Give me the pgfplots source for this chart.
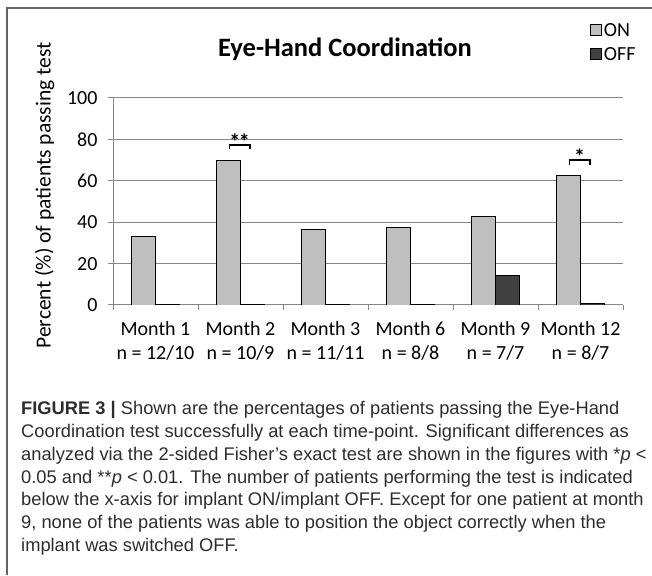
\documentclass[border=0pt]{standalone}
\usepackage{fontspec}
\setmainfont{Carlito}
\newfontfamily\capfont{Liberation Sans}
\usepackage{pgfplots}
\pgfplotsset{compat=1.18}
\definecolor{onfill}{RGB}{191,191,191}
\definecolor{offfill}{RGB}{64,64,64}
\definecolor{gridc}{RGB}{134,134,134}
\definecolor{framec}{RGB}{100,100,100}
\definecolor{capc}{RGB}{45,45,45}
\pgfplotsset{ybar legend/.style={legend image code/.code={\draw[##1, line width=0.8pt] (0pt,-5.5pt) rectangle (11pt,5.5pt);}}}
\begin{document}
\begin{tikzpicture}[x=1pt,y=1pt]
\useasboundingbox (0,0) rectangle (652,575);
\draw[framec, line width=1.2pt] (7,0) -- (7,567) -- (652,567);
\node[font=\bfseries\fontsize{26.5}{30}\selectfont, anchor=base] at (345,518) {Eye-Hand Coordination};
\begin{axis}[
  at={(113pt,270pt)}, anchor=south west,
  scale only axis, width=510pt, height=207pt,
  xmin=-0.5, xmax=5.5, ymin=0, ymax=100,
  axis x line*=bottom, axis y line*=left,
  axis line style={gridc, line width=1pt},
  ytick={0,20,...,100},
  ymajorgrids, grid style={gridc, line width=1pt},
  tick align=outside,
  major tick length=5pt,
  minor tick length=5pt,
  tick style={gridc, line width=1pt},
  xtick={0,...,5},
  major x tick style={draw=none},
  minor xtick={-0.5,0.5,...,5.5},
  xticklabels={{Month 1\\n = 12/10},{Month 2\\n = 10/9},{Month 3\\n = 11/11},{Month 6\\n = 8/8},{Month 9\\n = 7/7},{Month 12\\n = 8/7}},
  xticklabel style={align=center, font=\fontsize{20}{24}\selectfont, yshift=-8pt},
  yticklabel style={font=\fontsize{20}{24}\selectfont, xshift=-7pt},
  /pgf/number format/assume math mode=true,
  ybar=0pt, bar width=24pt,
  ylabel={Percent (\%) of patients passing test},
  ylabel style={font=\fontsize{21.5}{24}\selectfont, at={(axis description cs:-0.134,0.529)}, anchor=center},
  legend style={at={(0.935,1.360)}, anchor=north west, draw=none, fill=none,
    font=\fontsize{20}{24}\selectfont, inner sep=0pt, row sep=11pt,
    nodes={inner sep=0pt, text height=13pt, text depth=0pt},
    /tikz/every odd column/.append style={column sep=2pt}},
  legend cell align=left,
]
\addplot[fill=onfill, draw=black, line width=0.8pt] coordinates {(0,33.3) (1,70.0) (2,36.4) (3,37.5) (4,42.9) (5,62.5)};
\addplot[fill=offfill, draw=black, line width=0.8pt] coordinates {(0,0.4) (1,0.4) (2,0.4) (3,0.4) (4,14.3) (5,0.8)};
\legend{ON,OFF}
\draw[black, line width=1.3pt] (axis cs:0.87,75.2) -- (axis cs:0.87,77.3) -- (axis cs:1.11,77.3) -- (axis cs:1.11,75.2);
\node[font=\bfseries\fontsize{22}{24}\selectfont, anchor=base, inner sep=0pt] at (axis cs:0.99,75.0) {*\kern-1.5pt*};
\draw[black, line width=1.3pt] (axis cs:4.87,67.6) -- (axis cs:4.87,70.0) -- (axis cs:5.11,70.0) -- (axis cs:5.11,67.6);
\node[font=\bfseries\fontsize{22}{24}\selectfont, anchor=base, inner sep=0pt] at (axis cs:4.99,67.7) {*};
\end{axis}
\begin{scope}[every node/.style={anchor=base west, inner sep=0pt, text=capc, font=\capfont\fontsize{18.3}{22}\selectfont}]
\node at (21,160) {\textbf{FIGURE 3 |} Shown are the percentages of patients passing the Eye-Hand};
\node at (21,137.3) {Coordination test successfully at each time-point. Significant differences as};
\node at (21,114.6) {analyzed via the 2-sided Fisher’s exact test are shown in the figures with *\textit{p} <};
\node at (21,91.9) {0.05 and **\textit{p} < 0.01. The number of patients performing the test is indicated};
\node at (21,69.2) {below the x-axis for implant ON/implant OFF. Except for one patient at month};
\node at (21,46.5) {9, none of the patients was able to position the object correctly when the};
\node at (21,23.8) {implant was switched OFF.};
\end{scope}
\end{tikzpicture}
\end{document}
